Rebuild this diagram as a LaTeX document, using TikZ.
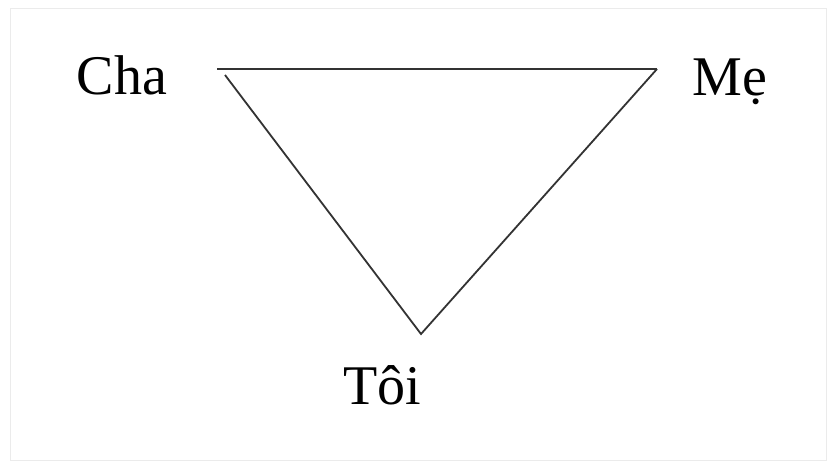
\documentclass[tikz,border=0pt]{standalone}
\usepackage{fontspec}
\setmainfont{Liberation Serif}
\begin{document}
\begin{tikzpicture}[x=1pt,y=-1pt,
  lbl/.style={anchor=base,inner sep=0pt,font=\fontsize{56}{62}\selectfont},
  edge/.style={draw=black!80,line width=1.8pt}]
\useasboundingbox (0,0) rectangle (834,463);
\fill[white] (0,0) rectangle (834,463);
\draw[black!8,line width=1pt] (10,8) rectangle (826,460);
\node[lbl] (cha) at (122,94) {Cha};
\node[lbl] (me) at (730,95) {Mẹ};
\node[lbl] (toi) at (382,404) {Tôi};
\coordinate (tl) at (217,69);
\coordinate (tl2) at (225,75);
\coordinate (tr) at (657,69);
\coordinate (bt) at (421,334);
\draw[edge] (tl) -- (tr);
\draw[edge,line join=miter] (tr) -- (bt) -- (tl2);
\end{tikzpicture}
\end{document}
